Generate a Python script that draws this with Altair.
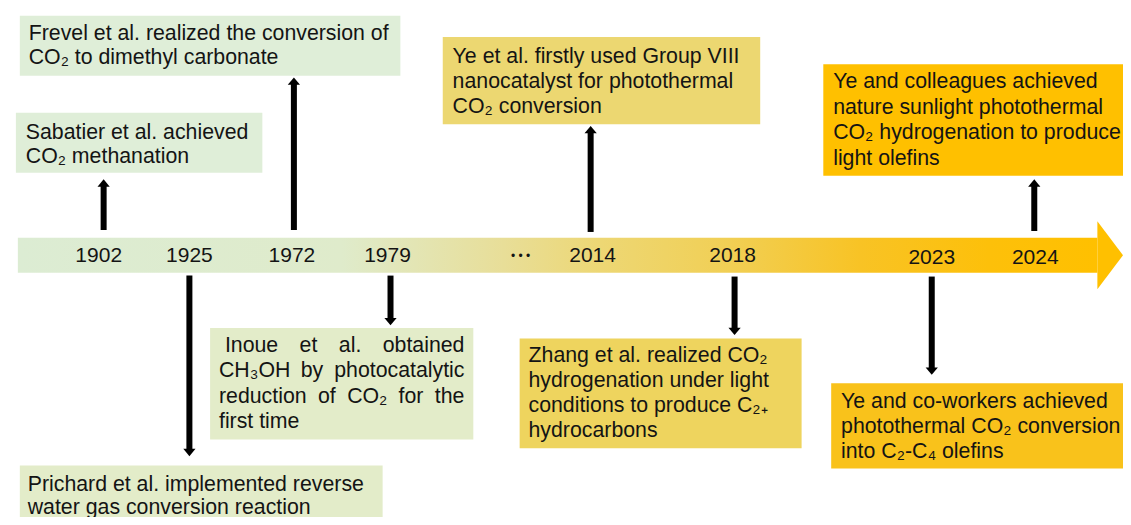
import altair as alt
import pandas as pd

W, H = 1131, 525
PW, PH = 1115, 509
KX = PW / W
FONT = "Arial, Liberation Sans, Helvetica, sans-serif"
FS = 21.3

# ---------------- data ----------------
years = ["1902", "1925", "1972", "1979", "2014", "2018", "2023", "2024"]
year_x = [92, 184, 288, 385, 593, 735, 937, 1042]
year_y = [256, 256, 256, 256, 256, 256, 258, 258]

event_year = ["1972", "1902", "2014", "2024", "1925", "1979", "2018", "2023"]
event_lines = [
    ["Frevel et al. realized the conversion of", "CO\u2082 to dimethyl carbonate"],
    ["Sabatier et al. achieved", "CO\u2082 methanation"],
    ["Ye et al. firstly used Group VIII", "nanocatalyst for photothermal", "CO\u2082 conversion"],
    ["Ye and colleagues achieved", "nature sunlight photothermal",
     "CO\u2082 hydrogenation to produce", "light olefins"],
    ["Prichard et al. implemented reverse", "water gas conversion reaction"],
    [" Inoue et al. obtained", "CH\u2083OH by photocatalytic",
     "reduction of CO\u2082 for the", "first time"],
    ["Zhang et al. realized CO\u2082", "hydrogenation under light",
     "conditions to produce C\u2082\u208A", "hydrocarbons"],
    ["Ye and co-workers achieved", "photothermal CO\u2082 conversion",
     "into C\u2082-C\u2084 olefins"],
]
event_justify = [False, False, False, False, False, True, False, False]

# layout of the boxes (left, right, top, bottom), text start, first baseline, line step
box_x0 = [12, 8, 441, 827, 12, 205, 519, 835]
box_x1 = [398, 258, 763, 1140, 380, 472, 805, 1140]
box_y0 = [8, 108, 30, 58, 472, 330, 341, 387]
box_y1 = [70, 170, 120, 173, 530, 445, 454, 475]
text_x = [21, 18, 451, 837, 20, 214, 528, 845]
text_right = [None, None, None, None, None, 463, None, None]
first_base = [33, 135, 57, 83, 498, 355, 365, 413]
line_step = [25, 25, 25.5, 26.3, 24, 26, 26, 25.5]
box_fill = ["#dfeed8", "#dfeed8", "#ecd771", "#ffc000",
            "#e3ecc9", "#e3ecc9", "#eed45e", "#f9c21b"]

# arrows: x, start (at band), tip
arrow_x = [290, 97, 591, 1041, 184, 388, 737, 937]
arrow_from = [229, 229, 231, 230, 276, 276, 277, 277]
arrow_tip = [72, 177, 122, 177, 462, 327, 337, 378]

band_x = [10, 1105]
band_y = [237, 273]
head_x = [1105, 1131]
head_top = [220, 255]
head_bot = [290, 255]

band_stops = [(0.0, "#dcecd3"), (0.3, "#dfebcb"), (0.45, "#e8de98"),
              (0.54, "#edd774"), (0.66, "#f1cf54"), (0.78, "#f8c325"),
              (0.9, "#fdc00a"), (1.0, "#ffc000")]

# Arial advance widths (per 1000 em) for justification
AW = {' ': 278, 'I': 278, 'C': 722, 'H': 722, 'O': 778, '.': 278,
      'a': 556, 'b': 556, 'c': 500, 'd': 556, 'e': 556, 'f': 278, 'h': 556,
      'i': 222, 'l': 222, 'm': 833, 'n': 556, 'o': 556, 'p': 556, 'r': 333,
      's': 500, 't': 278, 'u': 556, 'y': 500, '\u2082': 380, '\u2083': 380}


def tw(s):
    return sum(AW.get(c, 556) for c in s) * FS / 1000.0


# ---------------- tables ----------------
xs = alt.Scale(domain=[0, W], range=[0, PW], nice=False, zero=False)
ys = alt.Scale(domain=[0, H], range=[0, PH], nice=False, zero=False)

boxes = pd.DataFrame({"x0": box_x0, "x1": box_x1, "y0": box_y0, "y1": box_y1,
                      "fill": box_fill})

text_rows = []
for i, lines in enumerate(event_lines):
    for j, ln in enumerate(lines):
        y = first_base[i] + j * line_step[i]
        if event_justify[i] and j < len(lines) - 1:
            lead = len(ln) - len(ln.lstrip())
            words = ln.split()
            left_px = text_x[i] * KX + tw(" " * lead)
            right_px = text_right[i] * KX
            total = sum(tw(w) for w in words)
            gap = (right_px - left_px - total) / (len(words) - 1)
            pos = left_px
            for w in words:
                text_rows.append({"x": pos / KX, "y": y, "t": w})
                pos += tw(w) + gap
        else:
            text_rows.append({"x": text_x[i], "y": y, "t": ln})
texts = pd.DataFrame(text_rows)

arrows = pd.DataFrame({"x": arrow_x, "y0": arrow_from, "y1": arrow_tip})
up = arrows[arrows.y1 < arrows.y0].copy()
dn = arrows[arrows.y1 > arrows.y0].copy()
HEAD_H = 7.0
up["shaft_end"] = up.y1 + HEAD_H - 1
up["hy"] = up.y1 + HEAD_H / 2
dn["shaft_end"] = dn.y1 - HEAD_H + 1
dn["hy"] = dn.y1 - HEAD_H / 2
arrows_all = pd.concat([up, dn])

band = pd.DataFrame({"x0": [band_x[0]], "x1": [band_x[1]],
                     "y0": [band_y[0]], "y1": [band_y[1]]})
head = pd.DataFrame({"x": head_x, "yt": head_top, "yb": head_bot})
yrs = pd.DataFrame({"x": year_x, "y": year_y, "t": years})
dots = pd.DataFrame({"x": [520], "y": [256], "t": ["\u2022   \u2022   \u2022"]})

# ---------------- layers ----------------
grad = alt.Gradient(gradient="linear", x1=0, x2=1, y1=0, y2=0,
                    stops=[alt.GradientStop(offset=o, color=c) for o, c in band_stops])

band_l = alt.Chart(band).mark_rect(color=grad).encode(
    x=alt.X("x0:Q", scale=xs, axis=None), x2="x1:Q",
    y=alt.Y("y0:Q", scale=ys, axis=None), y2="y1:Q")

head_l = alt.Chart(head).mark_area(color="#ffc000", interpolate="linear").encode(
    x=alt.X("x:Q", scale=xs, axis=None),
    y=alt.Y("yt:Q", scale=ys, axis=None), y2="yb:Q")

box_l = alt.Chart(boxes).mark_rect().encode(
    x=alt.X("x0:Q", scale=xs, axis=None), x2="x1:Q",
    y=alt.Y("y0:Q", scale=ys, axis=None), y2="y1:Q",
    color=alt.Color("fill:N", scale=None))

shaft_l = alt.Chart(arrows_all).mark_rule(color="#000000", strokeWidth=6,
                                          strokeCap="butt").encode(
    x=alt.X("x:Q", scale=xs, axis=None),
    y=alt.Y("y0:Q", scale=ys, axis=None), y2="shaft_end:Q")

up_head = alt.Chart(up).mark_point(
    shape="M0,-0.6L1,0.6L-1,0.6Z", filled=True, size=150, color="#000000",
    opacity=1).encode(x=alt.X("x:Q", scale=xs, axis=None),
                      y=alt.Y("hy:Q", scale=ys, axis=None))
dn_head = alt.Chart(dn).mark_point(
    shape="M0,0.6L1,-0.6L-1,-0.6Z", filled=True, size=150, color="#000000",
    opacity=1).encode(x=alt.X("x:Q", scale=xs, axis=None),
                      y=alt.Y("hy:Q", scale=ys, axis=None))

text_l = alt.Chart(texts).mark_text(
    align="left", baseline="alphabetic", font=FONT, fontSize=FS,
    color="#141414").encode(
    x=alt.X("x:Q", scale=xs, axis=None),
    y=alt.Y("y:Q", scale=ys, axis=None), text="t:N")

year_l = alt.Chart(yrs).mark_text(
    align="center", baseline="middle", font=FONT, fontSize=21,
    color="#141414").encode(
    x=alt.X("x:Q", scale=xs, axis=None),
    y=alt.Y("y:Q", scale=ys, axis=None), text="t:N")

dots_l = alt.Chart(dots).mark_text(
    align="center", baseline="middle", font=FONT, fontSize=12,
    color="#141414").encode(
    x=alt.X("x:Q", scale=xs, axis=None),
    y=alt.Y("y:Q", scale=ys, axis=None), text="t:N")

chart = alt.layer(band_l, head_l, box_l, shaft_l, up_head, dn_head,
                  text_l, year_l, dots_l).properties(
    width=PW, height=PH, padding=0, autosize="none", background="white"
).configure_view(stroke=None)

chart.save("out.html", embed_options={"renderer": "svg", "actions": False})
